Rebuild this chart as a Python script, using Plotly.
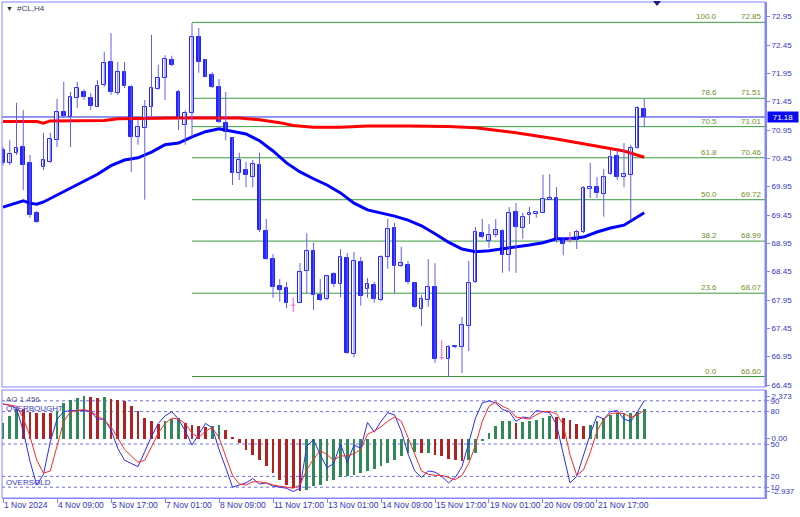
import plotly.graph_objects as go

# ---------------- data ----------------
bar_index = list(range(96))
opens = [70.60, 70.37, 70.55, 70.65, 70.37, 69.49, 70.30, 70.39, 70.77, 71.27,
         71.18, 71.52, 71.62, 71.52, 71.36, 71.74, 72.15, 71.60, 71.97, 71.71,
         70.83, 70.99, 71.36, 71.67, 71.87, 72.19, 71.62, 71.04, 71.25, 72.59,
         72.19, 71.92, 71.71, 71.07, 70.81, 70.19, 70.24, 70.12, 70.33, 69.17,
         68.67, 68.20, 68.16, 67.86, 67.90, 68.46, 68.82, 68.04, 67.97, 68.41,
         68.23, 68.69, 67.00, 68.62, 68.14, 68.22, 67.95, 68.71, 69.22, 68.55,
         68.57, 68.25, 67.79, 67.95, 68.18, 66.93, 66.91, 67.12, 67.12, 67.49,
         68.27, 69.13, 68.99, 69.10, 69.17, 68.74, 69.50, 69.22, 69.45, 69.47,
         69.49, 69.72, 69.75, 69.03, 69.01, 69.01, 69.15, 69.91, 69.94, 69.82,
         70.17, 70.49, 70.12, 70.16, 70.63, 71.32]
highs = [70.65, 70.77, 71.43, 71.30, 70.51, 69.52, 70.90, 70.90, 71.50, 71.80,
         71.62, 71.80, 71.67, 71.60, 71.83, 72.33, 72.66, 72.15, 72.15, 71.74,
         71.13, 71.48, 72.63, 72.10, 72.27, 72.26, 71.66, 71.30, 72.84, 72.75,
         72.20, 71.97, 71.85, 71.62, 70.81, 70.55, 70.39, 70.42, 70.55, 69.38,
         68.76, 68.32, 68.27, 67.99, 68.60, 69.13, 68.96, 68.32, 68.39, 68.44,
         68.85, 68.78, 68.80, 68.71, 68.34, 68.27, 68.74, 69.38, 69.31, 68.89,
         68.64, 68.26, 68.04, 68.67, 68.60, 67.24, 67.15, 67.15, 67.65, 68.64,
         69.24, 69.38, 69.29, 69.38, 69.20, 69.59, 69.66, 69.49, 69.59, 69.52,
         70.16, 70.17, 69.94, 69.04, 69.15, 69.19, 69.96, 70.37, 70.12, 70.26,
         70.60, 70.60, 70.72, 70.69, 71.37, 71.50]
lows = [70.32, 70.33, 70.51, 69.89, 69.40, 69.31, 70.24, 70.37, 70.65, 71.16,
        70.65, 71.34, 71.48, 71.30, 71.36, 71.71, 71.57, 71.57, 71.69, 70.21,
        70.69, 69.72, 71.16, 71.66, 71.48, 72.08, 70.95, 70.69, 70.83, 71.96,
        71.88, 71.69, 71.07, 70.77, 69.98, 70.07, 69.94, 69.94, 69.15, 68.66,
        67.99, 67.92, 67.81, 67.74, 67.90, 68.07, 67.77, 67.93, 67.95, 68.18,
        68.00, 67.00, 66.94, 67.85, 67.99, 67.90, 67.93, 68.50, 68.07, 68.53,
        68.23, 67.81, 67.49, 67.83, 66.84, 66.90, 66.59, 67.10, 66.66, 67.05,
        68.25, 69.04, 68.87, 69.06, 68.43, 68.46, 68.43, 69.03, 69.29, 69.40,
        69.49, 69.72, 68.96, 68.74, 68.96, 68.85, 69.13, 69.75, 69.75, 69.42,
        70.16, 70.07, 69.94, 69.36, 70.62, 71.00]
closes = [70.37, 70.53, 70.63, 70.33, 69.45, 69.33, 70.42, 70.79, 71.27, 71.20,
          71.53, 71.69, 71.53, 71.37, 71.73, 72.13, 71.62, 71.97, 71.73, 70.83,
          71.00, 71.36, 71.69, 71.87, 72.20, 72.10, 71.18, 71.25, 72.59, 72.15,
          71.89, 71.71, 71.09, 70.92, 70.19, 70.42, 70.16, 70.35, 69.19, 68.67,
          68.18, 68.13, 67.90, 67.86, 68.44, 68.82, 68.04, 67.95, 68.38, 68.23,
          68.71, 67.01, 68.64, 68.02, 68.23, 67.97, 68.71, 69.20, 68.55, 68.60,
          68.27, 67.82, 67.97, 68.18, 66.91, 66.93, 67.12, 67.14, 67.51, 68.25,
          69.15, 69.06, 69.10, 69.19, 68.74, 69.49, 69.24, 69.42, 69.49, 69.50,
          69.73, 69.75, 69.01, 68.94, 69.01, 69.15, 69.93, 69.94, 69.84, 70.12,
          70.47, 70.12, 70.17, 70.63, 71.34, 71.18]

ma_slow_idx = [0, 5, 6, 7, 15, 17, 26, 35, 38, 41, 43, 46, 50, 54, 60, 66, 70, 76, 82, 88, 92, 95]
ma_slow = [71.10, 71.10, 71.07, 71.11, 71.12, 71.15, 71.16, 71.16, 71.13, 71.08, 71.03,
           71.00, 71.00, 71.02, 71.02, 71.01, 70.99, 70.90, 70.79, 70.67, 70.58, 70.47]

ma_fast_idx = [0, 2, 3, 4, 5, 6, 8, 10, 12, 14, 16, 18, 20, 22, 24, 26, 28, 30, 32, 34, 36, 38,
               40, 42, 44, 46, 48, 50, 52, 54, 56, 58, 60, 62, 64, 66, 68, 70, 72, 74, 76, 78,
               80, 82, 84, 86, 88, 90, 92, 94, 95]
ma_fast = [69.59, 69.66, 69.70, 69.66, 69.64, 69.68, 69.80, 69.93, 70.05, 70.17, 70.32, 70.42,
           70.46, 70.56, 70.69, 70.72, 70.83, 70.92, 70.97, 70.93, 70.88, 70.76, 70.58, 70.37,
           70.21, 70.09, 69.98, 69.84, 69.66, 69.54, 69.49, 69.43, 69.36, 69.26, 69.12, 68.97,
           68.85, 68.80, 68.82, 68.85, 68.89, 68.92, 68.96, 69.03, 69.03, 69.06, 69.15, 69.22,
           69.27, 69.42, 69.49]

ao = [0.87, 1.24, 1.67, 1.63, 1.47, 1.45, 1.43, 1.41, 1.56, 1.99,
      2.18, 2.27, 2.373, 2.32, 2.25, 2.30, 2.23, 2.18, 2.12, 1.84,
      1.52, 1.15, 0.96, 0.82, 0.96, 1.11, 1.15, 0.89, 0.78, 0.70,
      0.63, 0.69, 0.74, 0.50, 0.07, -0.25, -0.62, -0.90, -1.18, -1.55,
      -1.92, -2.30, -2.57, -2.76, -2.937, -2.85, -2.67, -2.57, -2.39, -2.29,
      -2.16, -2.11, -2.05, -1.92, -1.83, -1.68, -1.55, -1.36, -1.18, -0.98,
      -0.82, -0.75, -0.80, -0.78, -0.90, -0.99, -1.12, -1.18, -1.27, -1.18,
      -0.80, -0.15, 0.31, 0.72, 0.96, 0.98, 0.87, 0.91, 0.96, 1.06,
      1.15, 1.24, 1.23, 1.15, 1.06, 0.82, 0.69, 0.78, 0.96, 1.15,
      1.34, 1.41, 1.43, 1.45, 1.49, 1.67]
ao_label_value = 1.456

stoch_main = [87, 86, 83, 62, 34, 12, 22, 52, 73, 80, 81, 81, 81, 80, 73, 73, 63, 46, 35, 32,
              29, 43, 57, 69, 76, 80, 73, 62, 49, 59, 69, 65, 45, 28, 10, 12, 14, 18, 13, 14,
              11, 10, 9, 6, 9, 48, 54, 40, 28, 32, 50, 33, 49, 46, 70, 61, 71, 79, 77, 62,
              41, 25, 19, 25, 24, 20, 14, 19, 29, 51, 74, 88, 90, 88, 82, 80, 71, 75, 74, 81,
              80, 79, 68, 40, 14, 20, 40, 59, 76, 73, 80, 81, 73, 71, 80, 90]
stoch_signal = [87, 86, 85, 74, 57, 35, 23, 25, 49, 71, 80, 81, 82, 80, 76, 72, 66, 56, 45, 39,
                33, 35, 48, 60, 69, 74, 73, 69, 60, 56, 62, 65, 56, 39, 21, 13, 12, 15, 15, 14,
                12, 11, 10, 9, 12, 26, 36, 44, 40, 35, 39, 39, 41, 45, 59, 62, 66, 71, 75, 71,
                56, 40, 25, 22, 21, 21, 19, 17, 21, 32, 49, 71, 85, 89, 85, 82, 75, 74, 73, 77,
                80, 80, 78, 68, 40, 21, 26, 42, 62, 73, 78, 79, 78, 75, 77, 81]

fib_ratios = ["0.0", "23.6", "38.2", "50.0", "61.8", "70.5", "78.6", "100.0"]
fib_prices = [66.60, 68.07, 68.99, 69.72, 70.46, 71.01, 71.51, 72.85]

x_tick_idx = [0, 8, 16, 24, 32, 40, 48, 56, 64, 72, 80, 88]
x_tick_labels = ["1 Nov 2024", "4 Nov 09:00", "5 Nov 17:00", "7 Nov 01:00", "8 Nov 09:00",
                 "11 Nov 17:00", "13 Nov 01:00", "14 Nov 09:00", "15 Nov 17:00",
                 "19 Nov 01:00", "20 Nov 09:00", "21 Nov 17:00"]
price_ticks = [72.95, 72.45, 71.95, 71.45, 70.95, 70.45, 69.95, 69.45, 68.95, 68.45,
               67.95, 67.45, 66.95, 66.45]
stoch_levels = [90, 80, 50, 20, 10]
ao_ticks = [2.373, 0.0, -2.937]
ao_tick_text = ["2.373", "0.00", "-2.937"]

# ---------------- styling ----------------
FONT = "Liberation Sans, Arial, sans-serif"
AXIS = "#8484ff"
LABEL = "#3434c4"
BODY = "#2323ff"
WICK = "#5e5eff"
DOJI = "#ff55cc"
FIB = "#3c9c3c"
FIBTXT = "#6f8f1c"
XMAX = 112.89

fig = go.Figure()

# moving averages (drawn under the candles)
fig.add_trace(go.Scatter(x=ma_slow_idx, y=ma_slow, mode="lines",
                         line=dict(color="#ff0000", width=3), hoverinfo="skip"))
fig.add_trace(go.Scatter(x=ma_fast_idx, y=ma_fast, mode="lines",
                         line=dict(color="#0000ff", width=3), hoverinfo="skip"))

# candles
wx, wy, dx, dy = [], [], [], []
bull_x, bull_b, bull_h = [], [], []
bear_x, bear_b, bear_h = [], [], []
for i, o, h, l, c in zip(bar_index, opens, highs, lows, closes):
    if o == c:
        dx += [i, i, None, i - 0.3, i + 0.3, None]
        dy += [l, h, None, o, o, None]
        continue
    wx += [i, i, None]
    wy += [l, h, None]
    if c > o:
        bull_x.append(i); bull_b.append(o); bull_h.append(c - o)
    else:
        bear_x.append(i); bear_b.append(c); bear_h.append(o - c)

fig.add_trace(go.Scatter(x=wx, y=wy, mode="lines", line=dict(color=WICK, width=1),
                         hoverinfo="skip"))
fig.add_trace(go.Bar(x=bull_x, y=bull_h, base=bull_b, width=0.58,
                     marker=dict(color="#ffffff", line=dict(color=BODY, width=1))))
fig.add_trace(go.Bar(x=bear_x, y=bear_h, base=bear_b, width=0.58,
                     marker=dict(color=BODY, line=dict(color=BODY, width=1))))
fig.add_trace(go.Scatter(x=dx, y=dy, mode="lines", line=dict(color=DOJI, width=1),
                         hoverinfo="skip"))

# Awesome oscillator histogram
ao_colors = []
for k, v in enumerate(ao):
    up = True if k == 0 else v > ao[k - 1]
    ao_colors.append("#2e8b57" if up else "#b22222")
fig.add_trace(go.Bar(x=bar_index, y=ao, width=0.42, marker=dict(color=ao_colors, line_width=0),
                     xaxis="x", yaxis="y2"))

# stochastic
fig.add_trace(go.Scatter(x=bar_index, y=stoch_main, mode="lines",
                         line=dict(color="#2a2aff", width=1), xaxis="x", yaxis="y3"))
fig.add_trace(go.Scatter(x=bar_index, y=stoch_signal, mode="lines",
                         line=dict(color="#ff2a2a", width=1), xaxis="x", yaxis="y3"))

# ---------------- shapes ----------------
MAIN_BOTTOM = 0.2238
IND_TOP = 0.2177
shapes = []
fib_start = highs.index(max(highs))
for p in fib_prices:
    shapes.append(dict(type="line", xref="x", yref="y", x0=fib_start, x1=XMAX, y0=p, y1=p,
                       line=dict(color=FIB, width=1), layer="below"))
shapes.append(dict(type="line", xref="paper", yref="y", x0=0, x1=1, y0=closes[-1], y1=closes[-1],
                   line=dict(color="#2a2ad6", width=1), layer="below"))
for lv in stoch_levels:
    shapes.append(dict(type="line", xref="paper", yref="y3", x0=0, x1=1, y0=lv, y1=lv,
                       line=dict(color="#6a6af0", width=1, dash="3px,3px"), layer="below"))
shapes.append(dict(type="rect", xref="paper", yref="paper", x0=0, x1=1, y0=MAIN_BOTTOM, y1=1,
                   line=dict(color=AXIS, width=1)))
shapes.append(dict(type="rect", xref="paper", yref="paper", x0=0, x1=1, y0=0, y1=IND_TOP,
                   line=dict(color=AXIS, width=1)))
shapes.append(dict(type="path", xref="paper", yref="paper",
                   path="M 0.8532 1.002 L 0.8637 1.002 L 0.8585 0.9919 Z",
                   fillcolor="#1c1c8c", line=dict(width=0)))

# ---------------- annotations ----------------
ann = []
ann.append(dict(text="▼", xref="paper", yref="paper", x=0.002, y=0.986, xanchor="left",
                yanchor="middle", showarrow=False, font=dict(family=FONT, size=7, color="#222250")))
ann.append(dict(text="#CL,H4", xref="paper", yref="paper", x=0.0175, y=0.986, xanchor="left",
                yanchor="middle", showarrow=False, font=dict(family=FONT, size=8, color="#3a3a5a")))
for r, p in zip(fib_ratios, fib_prices):
    ann.append(dict(text=r, xref="paper", yref="y", x=0.9384, y=p, xanchor="right",
                    yanchor="bottom", showarrow=False, borderpad=0,
                    font=dict(family=FONT, size=8, color=FIBTXT)))
    ann.append(dict(text=f"{p:.2f}", xref="paper", yref="y", x=0.9974, y=p, xanchor="right",
                    yanchor="bottom", showarrow=False, borderpad=0,
                    font=dict(family=FONT, size=8, color=FIBTXT)))
ann.append(dict(text=f"{closes[-1]:.2f}", xref="paper", yref="y", x=1.0026, y=closes[-1],
                xanchor="left", yanchor="middle", showarrow=False, bgcolor="#0a0af0",
                width=30, height=10, borderpad=0, align="center",
                font=dict(family=FONT, size=8, color="#ffffff")))
ann.append(dict(text=f"AO {ao_label_value:.3f}", xref="paper", yref="y3", x=0.004, y=91.5,
                xanchor="left", yanchor="middle", showarrow=False, borderpad=0,
                font=dict(family=FONT, size=8, color="#55558a")))
ann.append(dict(text="OVERBOUGHT", xref="paper", yref="y3", x=0.004, y=83.0,
                xanchor="left", yanchor="middle", showarrow=False, borderpad=0,
                font=dict(family=FONT, size=8, color="#3c3cc8")))
ann.append(dict(text="OVERSOLD", xref="paper", yref="y3", x=0.004, y=14.8,
                xanchor="left", yanchor="middle", showarrow=False, borderpad=0,
                font=dict(family=FONT, size=8, color="#3c3cc8")))
for xi, lab in zip(x_tick_idx, x_tick_labels):
    ann.append(dict(text=lab, xref="x", yref="paper", x=xi, y=-0.0145, xanchor="left",
                    yanchor="middle", showarrow=False, borderpad=0, xshift=0,
                    font=dict(family=FONT, size=8.5, color=LABEL)))

axis_common = dict(showgrid=False, zeroline=False, ticks="outside", ticklen=3,
                   tickcolor=AXIS, tickfont=dict(family=FONT, size=8, color=LABEL))

fig.update_layout(
    width=800, height=517,
    margin=dict(l=2, r=35, t=2, b=19),
    paper_bgcolor="#ffffff", plot_bgcolor="#ffffff",
    showlegend=False, barmode="overlay", bargap=0,
    shapes=shapes, annotations=ann,
    xaxis=dict(domain=[0, 1], range=[-0.148, XMAX], anchor="y2", showgrid=False,
               zeroline=False, tickmode="array", tickvals=x_tick_idx, showticklabels=False,
               ticks="outside", ticklen=4, tickcolor=AXIS, showline=True, linecolor=AXIS,
               linewidth=1),
    yaxis=dict(domain=[MAIN_BOTTOM, 1], range=[66.415, 73.209], side="right", anchor="x",
               tickmode="array", tickvals=price_ticks,
               ticktext=[f"{v:.2f}" for v in price_ticks],
               showline=True, linecolor=AXIS, linewidth=2, **axis_common),
    yaxis2=dict(domain=[0, IND_TOP], range=[-3.318, 2.715], side="right", anchor="x",
                tickmode="array", tickvals=ao_ticks, ticktext=ao_tick_text,
                showline=True, linecolor=AXIS, linewidth=2, **axis_common),
    yaxis3=dict(overlaying="y2", range=[0, 100], side="right", anchor="x",
                tickmode="array", tickvals=stoch_levels,
                ticktext=[str(v) for v in stoch_levels], showline=False, **axis_common),
)

fig.write_html("out.html", config={"displayModeBar": False},
               post_script="document.body.style.margin='0px';")
